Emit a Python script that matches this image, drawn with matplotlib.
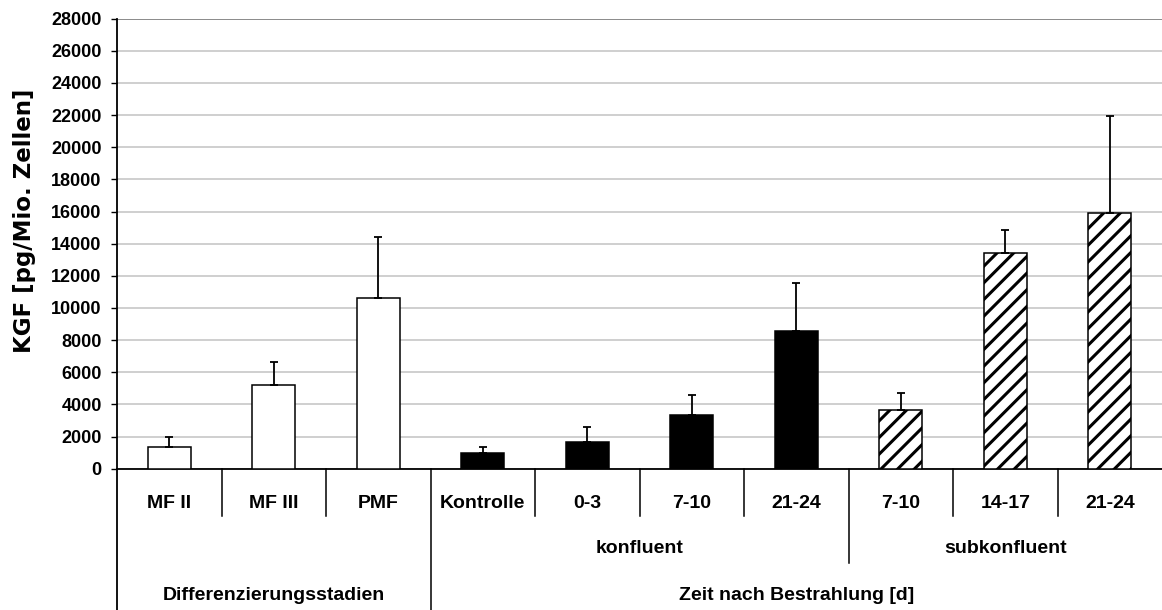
import matplotlib.pyplot as plt
import numpy as np

# values
labels = ["MF II", "MF III", "PMF", "Kontrolle", "0-3", "7-10", "21-24",
          "7-10", "14-17", "21-24"]
means = [1350, 5200, 10650, 950, 1680, 3360, 8570, 3670, 13400, 15920]
errors = [640, 1420, 3780, 420, 930, 1220, 2960, 1040, 1450, 6040]
groups = ["white"] * 3 + ["black"] * 4 + ["hatch"] * 3

level2 = [("konfluent", 3, 6), ("subkonfluent", 7, 9)]
level3 = [("Differenzierungsstadien", 0, 2), ("Zeit nach Bestrahlung [d]", 3, 9)]

yticks = np.arange(0, 28001, 2000)

plt.rcParams["font.family"] = ["Liberation Sans", "DejaVu Sans"]
plt.rcParams["hatch.linewidth"] = 2.2

fig = plt.figure(figsize=(11.62, 6.10), dpi=100)
ax = fig.add_axes([117 / 1162, 1 - 468.7 / 610, 1 - 117 / 1162, 450 / 610])

x = np.arange(len(labels))
styles = {
    "white": dict(color="white", hatch=None),
    "black": dict(color="black", hatch=None),
    "hatch": dict(color="white", hatch="//"),
}
for xi, m, g in zip(x, means, groups):
    s = styles[g]
    ax.bar(xi, m, width=0.41, color=s["color"], edgecolor="black",
           linewidth=1.1, hatch=s["hatch"], zorder=3)

ax.errorbar(x, means, yerr=[np.zeros(len(means)), errors], fmt="none",
            ecolor="black", elinewidth=1.3, capsize=3, capthick=1.3, zorder=4)

ax.set_xlim(-0.5, len(labels) - 0.5)
ax.set_ylim(0, 28000)
ax.set_yticks(yticks)
ax.set_yticklabels([str(v) for v in yticks], fontsize=13, fontweight="bold")
ax.tick_params(axis="y", direction="out", length=4, width=1, pad=7)
ax.set_xticks([])
ax.yaxis.grid(True, color="#cfcfcf", linewidth=1.4, zorder=0)
ax.set_axisbelow(True)
# top border of the plot area is a bit darker than the grid
ax.axhline(28000, color="#8c8c8c", linewidth=1.4, zorder=1)

for side in ["top", "right"]:
    ax.spines[side].set_visible(False)
ax.spines["left"].set_linewidth(1.3)
ax.spines["bottom"].set_linewidth(1.3)

# multi-level category axis
trans = ax.get_xaxis_transform()
ax.plot([-0.5, -0.5], [0, -0.313], color="black", lw=1.3,
        transform=trans, clip_on=False)
for b in np.arange(0.5, len(labels) - 0.5):
    if b == 2.5:
        depth = -0.313
    elif b == 6.5:
        depth = -0.209
    else:
        depth = -0.1044
    ax.plot([b, b], [0, depth], color="black", lw=1.1,
            transform=trans, clip_on=False)

for xi, lab in zip(x, labels):
    ax.text(xi, -0.077, lab, transform=trans, ha="center", va="center",
            fontsize=14, fontweight="bold")
for lab, a, b in level2:
    ax.text((a + b) / 2, -0.177, lab, transform=trans, ha="center",
            va="center", fontsize=14, fontweight="bold")
for lab, a, b in level3:
    ax.text((a + b) / 2, -0.281, lab, transform=trans, ha="center",
            va="center", fontsize=14, fontweight="bold")

fig.text(25 / 1162, 1 - 221 / 610, "KGF [pg/Mio. Zellen]", rotation=90,
         ha="center", va="center", fontsize=16.5, fontweight="bold",
         family="DejaVu Sans")

fig.savefig("out.png", dpi=100)
